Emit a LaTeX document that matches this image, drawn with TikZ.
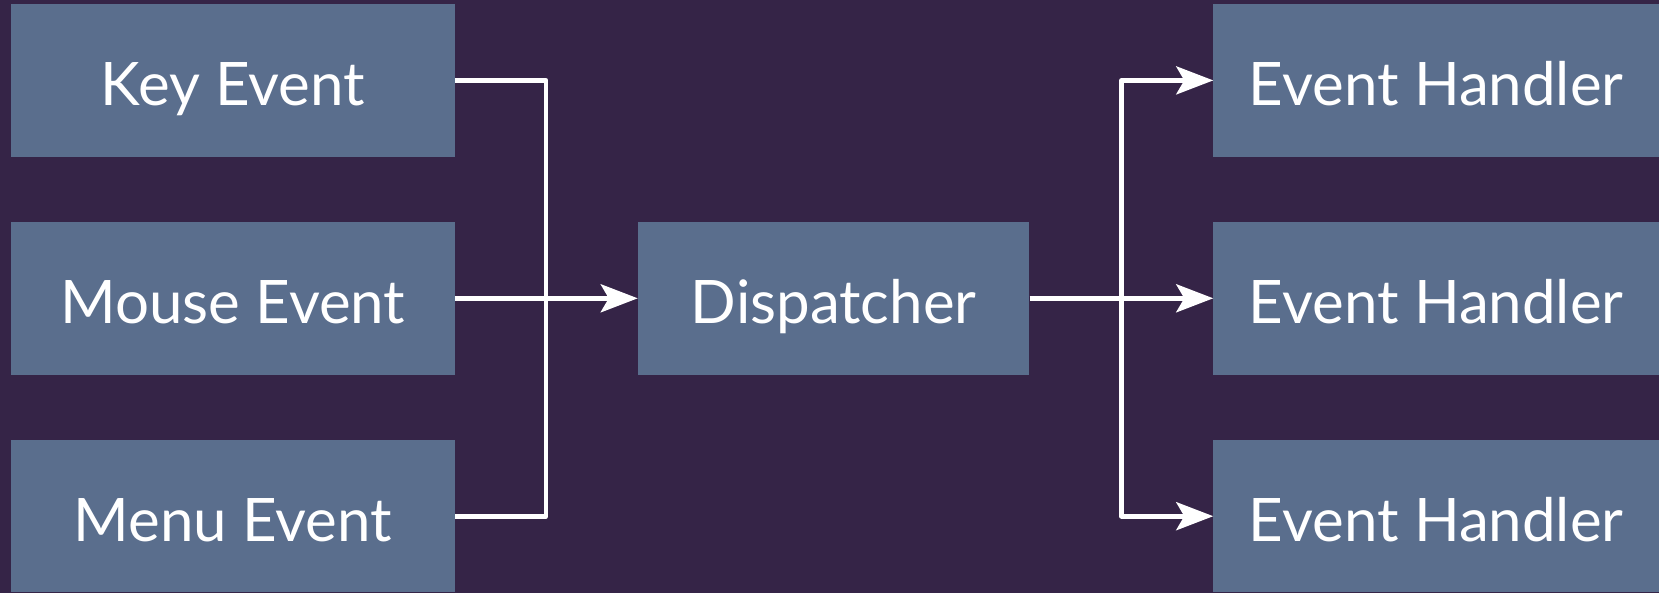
\documentclass[tikz,border=0pt]{standalone}
\usepackage{fontspec}
\setmainfont{Lato}
\usetikzlibrary{arrows.meta}
\definecolor{bgcol}{RGB}{53,36,71}
\definecolor{boxcol}{RGB}{90,110,141}
\tikzset{
  evbox/.style={fill=boxcol, draw=none, minimum height=152.4pt, inner sep=0pt,
    text height=50pt, text depth=0pt,
    text=white, font=\fontsize{60}{60}\selectfont},
  wire/.style={draw=white, line width=4.6pt, line join=round},
  tip/.style={-{Stealth[length=37pt, width=28pt, inset=8pt]}}
}
\begin{document}
\begin{tikzpicture}[x=1pt, y=-1pt]
  \fill[bgcol] (0,0) rectangle (1659,593);
  \useasboundingbox (0,0) rectangle (1659,593);

  % event sources
  \node[evbox, minimum width=444.4pt] (key)   at (232.8,80.4)  {Key Event};
  \node[evbox, minimum width=444.4pt] (mouse) at (232.8,298.3) {Mouse Event};
  \node[evbox, minimum width=444.4pt] (menu)  at (232.8,516.2) {Menu Event};

  % central dispatcher
  \node[evbox, minimum width=391.5pt] (disp)  at (833.7,298.3) {Dispatcher};

  % handlers
  \node[evbox, minimum width=445.5pt] (h1) at (1436.2,80.4)  {Event Handler};
  \node[evbox, minimum width=445.5pt] (h2) at (1436.2,298.3) {Event Handler};
  \node[evbox, minimum width=445.5pt] (h3) at (1436.2,516.2) {Event Handler};

  % merge bus on the left
  \coordinate (lbus) at (546,0);
  \draw[wire] (key.east) -| (lbus |- menu.east) -- (menu.east);
  \draw[wire, tip] (mouse.east) -- (disp.west);

  % fan-out bus on the right
  \coordinate (rbus) at (1121.5,0);
  \draw[wire, tip] (rbus |- h3.west) -- (rbus |- h1.west) -- (h1.west);
  \draw[wire, tip] (rbus |- h2.west) |- (h3.west);
  \draw[wire, tip] (disp.east) -- (h2.west);
\end{tikzpicture}
\end{document}
